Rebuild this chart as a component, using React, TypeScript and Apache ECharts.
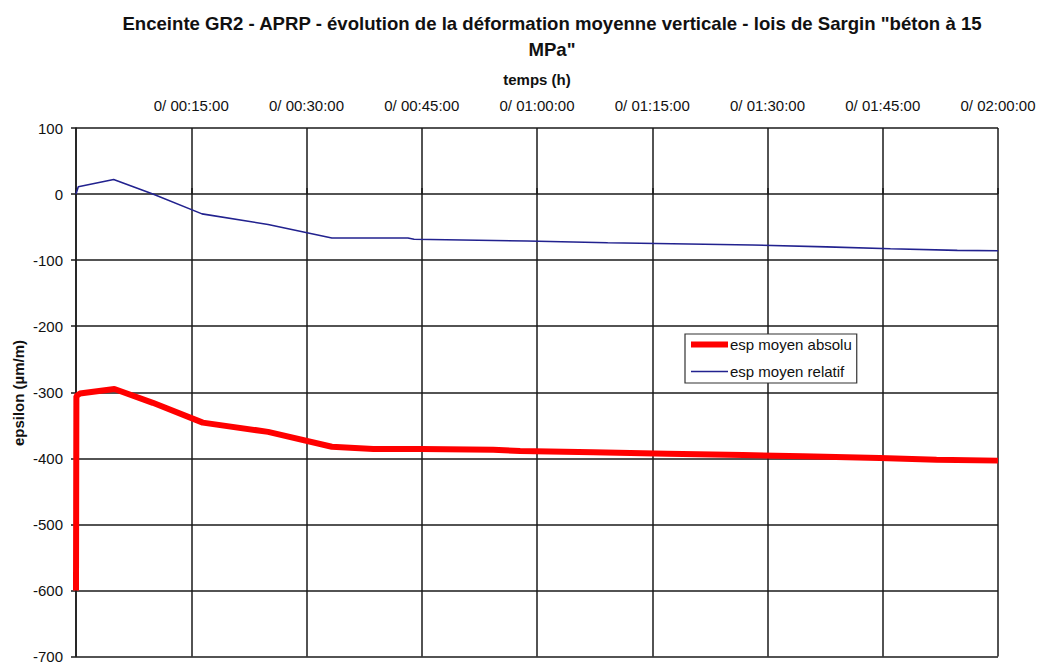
import React, { useEffect, useRef } from "react";
import * as echarts from "echarts";

const titleLine1 = 'Enceinte GR2 - APRP - évolution de la déformation moyenne verticale - lois de Sargin "béton à 15';
const titleLine2 = 'MPa"';
const xAxisName = "temps (h)";
const yAxisName = "epsilon (µm/m)";

// time in minutes
const absTimes = [0, 0.05, 0.5, 5, 10, 16.5, 25, 33.3, 38.7, 45, 54.3, 57.8, 67.3, 77, 86.8, 94.6, 104.6, 112, 120];
const absValues = [-600, -306, -302, -295, -316, -346, -360, -382.5, -386, -386, -387, -389, -391, -393, -395, -397, -399.5, -402, -403.5];

const relTimes = [0, 0.3, 4.9, 10, 16.4, 25, 33.3, 43.2, 44, 58.7, 69.2, 79.7, 88, 97.7, 106, 114.7, 120];
const relValues = [0, 11, 22, 0, -30, -46, -66.5, -66.5, -68.5, -71, -73.7, -75.6, -77, -80, -82.7, -85.2, -85.8];

const seriesNames = ["esp moyen absolu", "esp moyen relatif"];

const FONT = "Liberation Sans, Arial, sans-serif";

function fmtTime(v: number): string {
  if (v === 0) return "";
  const h = Math.floor(v / 60);
  const m = Math.round(v % 60);
  const pad = (n: number) => (n < 10 ? "0" + n : "" + n);
  return `0/ ${pad(h)}:${pad(m)}:00`;
}

export default function App() {
  const ref = useRef<HTMLDivElement>(null);
  useEffect(() => {
    if (!ref.current) return;
    const chart = echarts.init(ref.current, null, { renderer: "svg" });
    const lineColor = "#1a1a1a";
    chart.setOption({
      animation: false,
      backgroundColor: "#ffffff",
      textStyle: { fontFamily: FONT },
      grid: { left: 76, right: 42, top: 128, bottom: 7, containLabel: false },
      xAxis: {
        type: "value",
        position: "top",
        min: 0,
        max: 120,
        interval: 15,
        axisLine: { show: false },
        axisTick: { show: true, length: 6, lineStyle: { color: lineColor, width: 1.5 } },
        axisLabel: {
          show: true,
          margin: 15,
          fontSize: 15,
          color: "#111",
          fontFamily: FONT,
          showMaxLabel: true,
          showMinLabel: true,
          formatter: (v: number) => fmtTime(v),
        },
        splitLine: { show: true, lineStyle: { color: lineColor, width: 1.5 } },
      },
      yAxis: {
        type: "value",
        min: -700,
        max: 100,
        interval: 100,
        axisLine: { show: true, lineStyle: { color: lineColor, width: 1.5 } },
        axisTick: { show: true, length: 5, lineStyle: { color: lineColor, width: 1.5 } },
        axisLabel: { margin: 13, fontSize: 15, color: "#111", fontFamily: FONT },
        splitLine: { show: true, lineStyle: { color: lineColor, width: 1.5 } },
      },
      legend: {
        show: true,
        orient: "vertical",
        left: 685,
        top: 334,
        padding: [3, 5, 4, 3],
        itemWidth: 37,
        itemHeight: 14,
        itemGap: 12,
        backgroundColor: "#ffffff",
        borderColor: "#333",
        borderWidth: 1.2,
        itemStyle: { opacity: 0 },
        lineStyle: { opacity: 1, width: "inherit" },
        textStyle: { fontSize: 15, color: "#111", fontFamily: FONT, padding: [0, 0, 0, -3] },
        data: seriesNames,
      },
      graphic: [
        {
          type: "text",
          x: 552,
          y: 23,
          style: {
            text: titleLine1,
            font: `bold 18.6px ${FONT}`,
            fill: "#111",
            align: "center",
            verticalAlign: "middle",
          },
        },
        {
          type: "text",
          x: 552,
          y: 49,
          style: {
            text: titleLine2,
            font: `bold 18.6px ${FONT}`,
            fill: "#111",
            align: "center",
            verticalAlign: "middle",
          },
        },
        {
          type: "text",
          x: 537,
          y: 79,
          style: {
            text: xAxisName,
            font: `bold 15px ${FONT}`,
            fill: "#111",
            align: "center",
            verticalAlign: "middle",
          },
        },
        {
          type: "text",
          x: 18,
          y: 393,
          rotation: Math.PI / 2,
          style: {
            text: yAxisName,
            font: `bold 15px ${FONT}`,
            fill: "#111",
            align: "center",
            verticalAlign: "middle",
          },
        },
      ],
      series: [
        {
          name: seriesNames[0],
          type: "line",
          symbol: "none",
          showSymbol: false,
          lineStyle: { color: "#ff0000", width: 6 },
          itemStyle: { color: "#ff0000" },
          data: absTimes.map((t, i) => [t, absValues[i]]),
          z: 3,
        },
        {
          name: seriesNames[1],
          type: "line",
          symbol: "none",
          showSymbol: false,
          lineStyle: { color: "#22228f", width: 1.6 },
          itemStyle: { color: "#22228f" },
          data: relTimes.map((t, i) => [t, relValues[i]]),
          z: 3,
        },
      ],
    });
    return () => chart.dispose();
  }, []);
  return (
    <div
      ref={ref}
      style={{ position: "fixed", left: 0, top: 0, width: 1040, height: 664, background: "#fff" }}
    />
  );
}
